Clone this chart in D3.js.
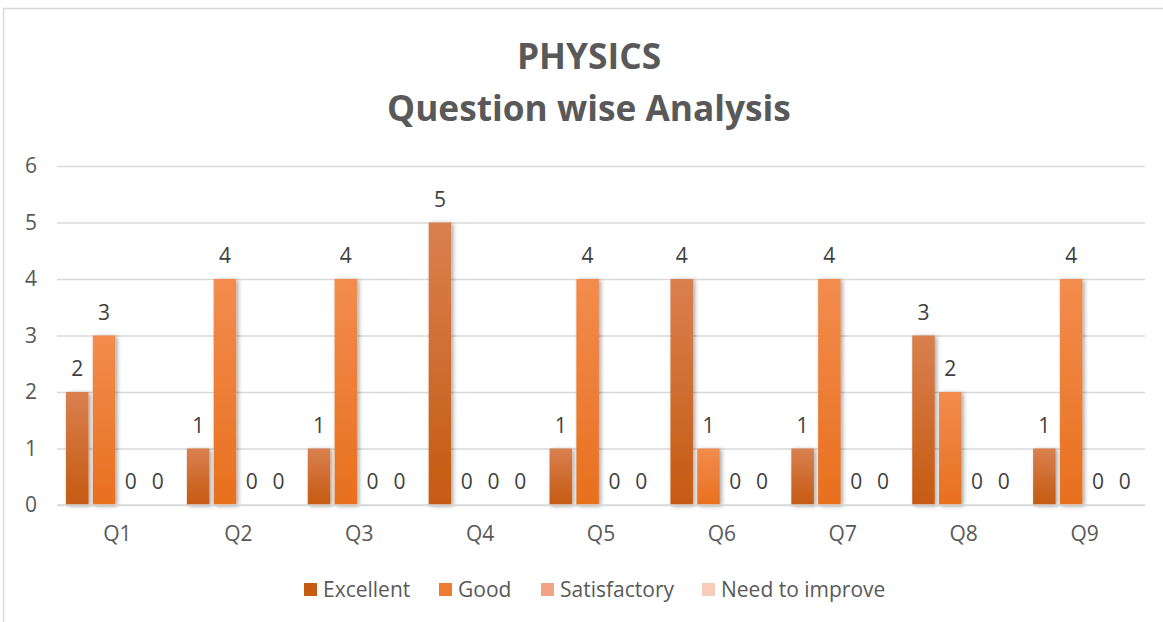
<!DOCTYPE html>
<html>
<head>
<meta charset="utf-8">
<script src="https://cdn.jsdelivr.net/npm/d3@7"></script>
<style>
  body { margin: 0; background: #fff; }
  text { font-family: "Open Sans", "Noto Sans", sans-serif; }
</style>
</head>
<body>
<script>
// chart data
var questions = ["Q1", "Q2", "Q3", "Q4", "Q5", "Q6", "Q7", "Q8", "Q9"];
var seriesNames = ["Excellent", "Good", "Satisfactory", "Need to improve"];
var excellent = [2, 1, 1, 5, 1, 4, 1, 3, 1];
var good = [3, 4, 4, 0, 4, 1, 4, 2, 4];
var satisfactory = [0, 0, 0, 0, 0, 0, 0, 0, 0];
var needToImprove = [0, 0, 0, 0, 0, 0, 0, 0, 0];
var yTicks = [0, 1, 2, 3, 4, 5, 6];

var seriesValues = [excellent, good, satisfactory, needToImprove];

// colours: [top, bottom] of each bar gradient
var colors = [
  ["#D9804F", "#C55A11"],
  ["#F28C4E", "#E8701E"],
  ["#F2A57E", "#EE9460"],
  ["#F8CFC0", "#F6C2AE"]
];
var legendColors = ["#C55A11", "#ED7D31", "#F1A383", "#F8CBBA"];

var svgWidth = 1163;
var svgHeight = 622;

var chartMargin = { top: 166, right: 18, bottom: 117, left: 57 };
var chartWidth = svgWidth - chartMargin.left - chartMargin.right;
var chartHeight = svgHeight - chartMargin.top - chartMargin.bottom;

var svg = d3.select("body")
  .append("svg")
  .attr("width", svgWidth)
  .attr("height", svgHeight);

var defs = svg.append("defs");
colors.forEach(function(c, i) {
  var g = defs.append("linearGradient")
    .attr("id", "grad" + i)
    .attr("x1", 0).attr("y1", 0).attr("x2", 0).attr("y2", 1);
  g.append("stop").attr("offset", "0%").attr("stop-color", c[0]);
  g.append("stop").attr("offset", "100%").attr("stop-color", c[1]);
});

var shadow = defs.append("filter")
  .attr("id", "shadow")
  .attr("x", "-30%").attr("y", "-10%")
  .attr("width", "170%").attr("height", "130%");
shadow.append("feDropShadow")
  .attr("dx", 2).attr("dy", 1)
  .attr("stdDeviation", 2)
  .attr("flood-color", "#000")
  .attr("flood-opacity", 0.35);

// chart frame
svg.append("rect")
  .attr("x", 3.5).attr("y", 8.5)
  .attr("width", svgWidth + 10).attr("height", svgHeight + 10)
  .attr("fill", "#fff")
  .attr("stroke", "#d9d9d9")
  .attr("stroke-width", 1.5);

// title
var title = svg.append("g").attr("fill", "#595959")
  .attr("font-weight", "bold")
  .attr("text-anchor", "middle");
var t1 = title.append("text").attr("x", 589).attr("y", 69)
  .style("font-size", "32px").text("PHYSICS");
var t2 = title.append("text").attr("x", 589).attr("y", 121)
  .style("font-size", "32px").text("Question wise Analysis");
// fit title width to the picture
var w2 = t2.node().getComputedTextLength();
var fs = 32 * 404 / w2;
t1.style("font-size", fs + "px");
t2.style("font-size", fs + "px");

var chartGroup = svg.append("g")
  .attr("transform", `translate(${chartMargin.left}, ${chartMargin.top})`);

var xScale = d3.scaleBand()
  .domain(questions)
  .range([0, chartWidth]);

var xInner = d3.scaleBand()
  .domain(seriesNames)
  .range([9, xScale.bandwidth() - 9])
  .paddingInner(0.16);

var yLinearScale = d3.scaleLinear()
  .domain([0, 6])
  .range([chartHeight, 0]);

// gridlines
chartGroup.append("g")
  .attr("class", "grid")
  .call(d3.axisLeft(yLinearScale).tickValues(yTicks).tickSize(-chartWidth).tickFormat(""))
  .call(g => g.select(".domain").remove())
  .selectAll("line")
  .attr("stroke", "#d9d9d9")
  .attr("stroke-width", 1.5);

// y labels
chartGroup.append("g")
  .call(d3.axisLeft(yLinearScale).tickValues(yTicks).tickFormat(d3.format("d")).tickSize(0).tickPadding(20))
  .call(g => g.select(".domain").remove())
  .selectAll("text")
  .attr("fill", "#595959")
  .style("font-size", "21px");

// x labels
chartGroup.append("g")
  .attr("transform", `translate(0, ${chartHeight})`)
  .call(d3.axisBottom(xScale).tickSize(0).tickPadding(21))
  .call(g => g.select(".domain").remove())
  .selectAll("text")
  .attr("fill", "#595959")
  .style("font-size", "21px");

// bars
var barData = [];
questions.forEach(function(q, qi) {
  seriesNames.forEach(function(s, si) {
    barData.push({ q: q, s: s, si: si, value: seriesValues[si][qi] });
  });
});

chartGroup.selectAll(".bar")
  .data(barData.filter(d => d.value > 0))
  .enter()
  .append("rect")
  .attr("class", "bar")
  .attr("x", d => xScale(d.q) + xInner(d.s))
  .attr("y", d => yLinearScale(d.value))
  .attr("width", xInner.bandwidth())
  .attr("height", d => chartHeight - yLinearScale(d.value))
  .attr("fill", d => "url(#grad" + d.si + ")")
  .attr("filter", "url(#shadow)");

// x axis line over bars
chartGroup.append("line")
  .attr("x1", 0).attr("x2", chartWidth)
  .attr("y1", chartHeight).attr("y2", chartHeight)
  .attr("stroke", "#d9d9d9")
  .attr("stroke-width", 1.5);

// value labels
chartGroup.selectAll(".val")
  .data(barData)
  .enter()
  .append("text")
  .attr("class", "val")
  .attr("x", d => xScale(d.q) + xInner(d.s) + xInner.bandwidth() / 2)
  .attr("y", d => yLinearScale(d.value) - 16)
  .attr("text-anchor", "middle")
  .attr("fill", "#404040")
  .style("font-size", "21px")
  .text(d => d.value);

// legend
var legendX = [304, 439, 541, 702];
var legend = svg.append("g").selectAll("g")
  .data(seriesNames)
  .enter()
  .append("g")
  .attr("transform", (d, i) => `translate(${legendX[i]}, 589)`);

legend.append("rect")
  .attr("x", 0).attr("y", -6)
  .attr("width", 13).attr("height", 13)
  .attr("fill", (d, i) => legendColors[i]);

legend.append("text")
  .attr("x", 19).attr("y", 8)
  .attr("fill", "#595959")
  .style("font-size", "21px")
  .text(d => d);
</script>
</body>
</html>
